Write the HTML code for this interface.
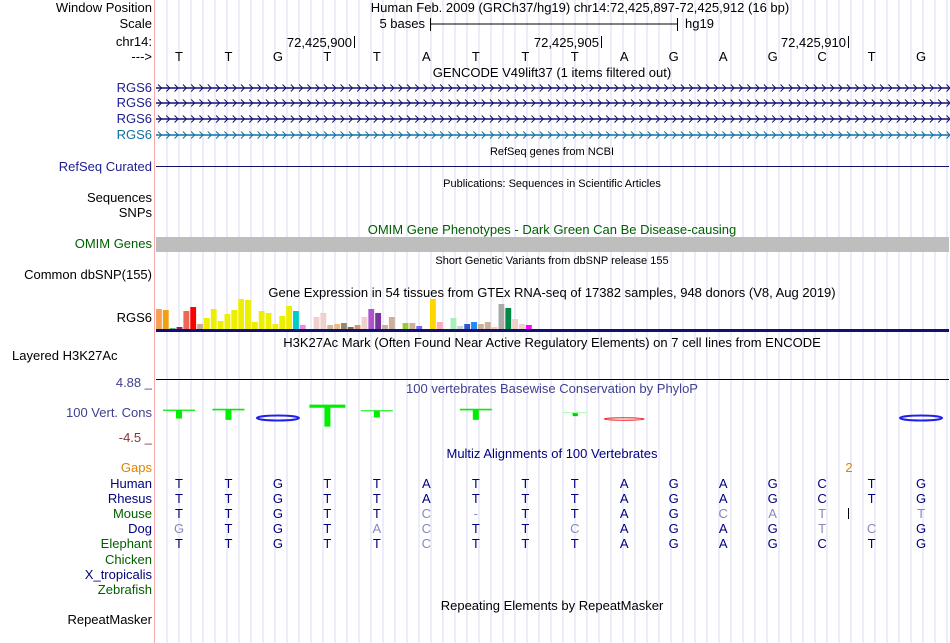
<!DOCTYPE html>
<html><head><meta charset="utf-8"><style>
html,body{margin:0;padding:0;background:#fff;width:950px;height:643px;overflow:hidden}
svg{display:block;font-family:"Liberation Sans",sans-serif}
</style></head><body>
<svg id="c" width="950" height="643" xmlns="http://www.w3.org/2000/svg"></svg>
<script>
const bases=["T","T","G","T","T","A","T","T","T","A","G","A","G","C","T","G"];
const humanSeq=["T","T","G","T","T","A","T","T","T","A","G","A","G","C","T","G"];
const rhesusSeq=["T","T","G","T","T","A","T","T","T","A","G","A","G","C","T","G"];
const mouseSeq=["T","T","G","T","T","C","-","T","T","A","G","C","A","T","","T"];
const mouseLight=[0,0,0,0,0,1,1,0,0,0,0,1,1,1,0,1];
const dogSeq=["G","T","G","T","A","C","T","T","C","A","G","A","G","T","C","G"];
const dogLight=[1,0,0,0,1,1,0,0,1,0,0,0,0,1,1,0];
const elephantSeq=["T","T","G","T","T","C","T","T","T","A","G","A","G","C","T","G"];
const elephantLight=[0,0,0,0,0,1,0,0,0,0,0,0,0,0,0,0];
const gtexValues=[20,19,1,2,18,22,5,11,20,8,15,19,30,29,7,18,16,5,13,23,18,4,0,12,16,4,5,6,2,4,12,20,16,4,12,0,6,6,3,0,30,7,0,11,3,5,7,5,7,2,25,21,10,5,4];
const gtexColors=["#f4a055","#f0a010","#66aa99","#882266","#ee6655","#ff0000","#ccaa99","#eeee00","#eeee00","#eeee00","#eeee00","#eeee00","#eeee00","#eeee00","#eeee00","#eeee00","#eeee00","#eeee00","#eeee00","#eeee00","#00cccc","#ee88ee","#fff","#eed0cc","#eed0cc","#ccbb99","#eebb88","#998866","#886655","#cc9977","#eed0cc","#aa55cc","#773399","#ccb099","#ccb099","#fff","#99cc33","#ccb099","#7766ee","#fff","#ffd700","#ffaabb","#fff","#aaeebb","#ccd0dd","#3355cc","#2288ff","#ccb099","#ccb099","#ffcc99","#aaaaaa","#008844","#eed0cc","#eed0cc","#ff00ff"];
const phyloP=[1.2,1.5,0,3.0,1.0,0,1.5,0,0.3,-0.2,0,0,0,0,0,0];
const phyloGlyph=["T","T","G","T","T","","T","","T","A","","","","","","G"];

const S=document.getElementById('c');const NS="http://www.w3.org/2000/svg";
function el(t,a,p){const e=document.createElementNS(NS,t);for(const k in a)e.setAttribute(k,a[k]);(p||S).appendChild(e);return e;}
const BW=49.47;
function bx(i){return 179+BW*i;}
for(let x=167;x<950;x+=12){const g=el('line',{x1:x,y1:0,x2:x,y2:643,stroke:'#d8d8f4','stroke-width':1});

}
const pl=el('line',{x1:154.5,y1:0,x2:154.5,y2:643,stroke:'#f4aaaa','stroke-width':1});


function txt(s,x,y,o){o=o||{};const t=el('text',{x:x,y:y,'font-size':o.fs||13,fill:o.c||'#000','text-anchor':o.a||'start'});t.textContent=s;

return t;}
const L=[["Window Position",12,'#000'],["Scale",28,'#000'],["chr14:",46,'#000'],["--->",61,'#000'],
["RGS6",92,'#202090'],["RGS6",107,'#202090'],["RGS6",123,'#202090'],["RGS6",139,'#1070a0'],["RefSeq Curated",171,'#202090'],
["Sequences",202,'#000'],["SNPs",217,'#000'],["OMIM Genes",248,'#006000'],["Common dbSNP(155)",279,'#000'],["RGS6",322,'#000'],
["100 Vert. Cons",417,'#404090'],["Gaps",472,'#e08000'],["Human",488,'#000080'],["Rhesus",503,'#000080'],["Mouse",518,'#006000'],["Dog",533,'#000080'],
["Elephant",548,'#006000'],["Chicken",564,'#006000'],["X_tropicalis",579,'#000080'],["Zebrafish",594,'#006000'],["RepeatMasker",624,'#000']];
L.forEach(l=>txt(l[0],152,l[1],{a:'end',c:l[2],n:'track-label',i:true}));
txt("Layered H3K27Ac",12,360,{n:'track-label',i:true});
txt("4.88 _",152,387,{a:'end',c:'#404090',n:'y-max-label'});
txt("-4.5 _",152,442,{a:'end',c:'#903030',n:'y-min-label'});
txt("Human Feb. 2009 (GRCh37/hg19)   chr14:72,425,897-72,425,912 (16 bp)",580,12,{a:'middle',n:'window-position'});
txt("5 bases",425,28,{a:'end',n:'scale-label'});
el('line',{x1:430,y1:24,x2:677,y2:24,stroke:'#000'});el('line',{x1:430.5,y1:18,x2:430.5,y2:31,stroke:'#000'});el('line',{x1:677.5,y1:18,x2:677.5,y2:31,stroke:'#000'});
txt("hg19",685,28,{n:'assembly-label'});
[[354,"72,425,900"],[601,"72,425,905"],[848,"72,425,910"]].forEach(p=>{txt(p[1],p[0]-2,47,{a:'end',n:'position-tick-label'});el('line',{x1:p[0]+.5,y1:36,x2:p[0]+.5,y2:48,stroke:'#000'});});
bases.forEach((b,i)=>txt(b,bx(i),61,{a:'middle',n:'base-letter'}));
txt("GENCODE V49lift37 (1 items filtered out)",552,77,{a:'middle',n:'gencode-title'});
[[88,'#101070'],[103,'#101070'],[119,'#101070'],[135,'#1070a0']].forEach(r=>{
 el('line',{x1:156,y1:r[0],x2:949,y2:r[0],stroke:r[1],'stroke-width':1.5});
 let d='';for(let x=158;x<948;x+=8.3){d+=`M${x.toFixed(1)},${r[0]-3.5}L${(x+3.5).toFixed(1)},${r[0]}L${x.toFixed(1)},${r[0]+3.5}`;}
 const p=el('path',{d:d,stroke:r[1],fill:'none','stroke-width':1});
 
 
});
txt("RefSeq genes from NCBI",552,155,{a:'middle',fs:11,n:'refseq-title'});
el('line',{x1:156,y1:166.5,x2:949,y2:166.5,stroke:'#101070','stroke-width':1});
txt("Publications: Sequences in Scientific Articles",552,187,{a:'middle',fs:11,n:'publications-title'});
txt("OMIM Gene Phenotypes - Dark Green Can Be Disease-causing",552,234,{a:'middle',c:'#006000',n:'omim-title'});
const om=el('rect',{x:156,y:237,width:793,height:15,fill:'#bebebe'});


txt("Short Genetic Variants from dbSNP release 155",552,264,{a:'middle',fs:11,n:'dbsnp-title'});
txt("Gene Expression in 54 tissues from GTEx RNA-seq of 17382 samples, 948 donors (V8, Aug 2019)",552,297,{a:'middle',n:'gtex-title'});
const gx0=156,gw=6.85,base=329;
gtexValues.forEach((v,i)=>{if(v<=0)return;const r=el('rect',{x:gx0+i*gw,y:base-v,width:gw-1,height:v,fill:gtexColors[i]});

});
el('rect',{x:156,y:329,width:793,height:3,fill:'#101070'});
txt("H3K27Ac Mark (Often Found Near Active Regulatory Elements) on 7 cell lines from ENCODE",552,347,{a:'middle',n:'h3k27ac-title'});
el('line',{x1:156,y1:379.5,x2:949,y2:379.5,stroke:'#000'});
txt("100 vertebrates Basewise Conservation by PhyloP",552,393,{a:'middle',c:'#404090',n:'phylop-title'});
const zy=413,sc=7;
phyloP.forEach((v,i)=>{const c=bx(i);const g=phyloGlyph[i];if(!g)return;
 let e;
 if(g==="G"){e=el('ellipse',{cx:c,cy:418,rx:21,ry:2.5,fill:'none',stroke:'#2020ee','stroke-width':2});}
 else if(v<0){e=el('ellipse',{cx:c,cy:419,rx:20,ry:1.2,fill:'none',stroke:'#ee2020','stroke-width':1});}
 else {const h=Math.max(2,v*sc);const top=zy-h*0.4, w=v>=2?36:(v<0.5?24:32);
  e=el('path',{d:`M${c-w/2},${top}h${w}v${Math.max(1,h*0.15)}h-${w/2-3}v${h*0.9}h-6v-${h*0.9}h-${w/2-3}z`,fill:v<0.5?'#aaffaa':'#00ee00'});
  if(v<0.5)el('rect',{x:c-2,y:top+1,width:5,height:3,fill:'#00cc00'});}
 
 });
txt("Multiz Alignments of 100 Vertebrates",552,458,{a:'middle',c:'#000080',n:'multiz-title'});
txt("2",849,472,{a:'middle',c:'#e08000',n:'gap-count'});
function row(seq,light,y,n){seq.forEach((b,i)=>{if(!b)return;txt(b,bx(i),y,{a:'middle',c:light&&light[i]?'#8888bb':'#000080',n:n});});}
row(humanSeq,null,488,'human-base');row(rhesusSeq,null,503,'rhesus-base');
row(mouseSeq,mouseLight,518,'mouse-base');el('line',{x1:848.5,y1:508,x2:848.5,y2:519,stroke:'#000'});
row(dogSeq,dogLight,533,'dog-base');row(elephantSeq,elephantLight,548,'elephant-base');
txt("Repeating Elements by RepeatMasker",552,610,{a:'middle',n:'repeatmasker-title'});
</script></body></html>
